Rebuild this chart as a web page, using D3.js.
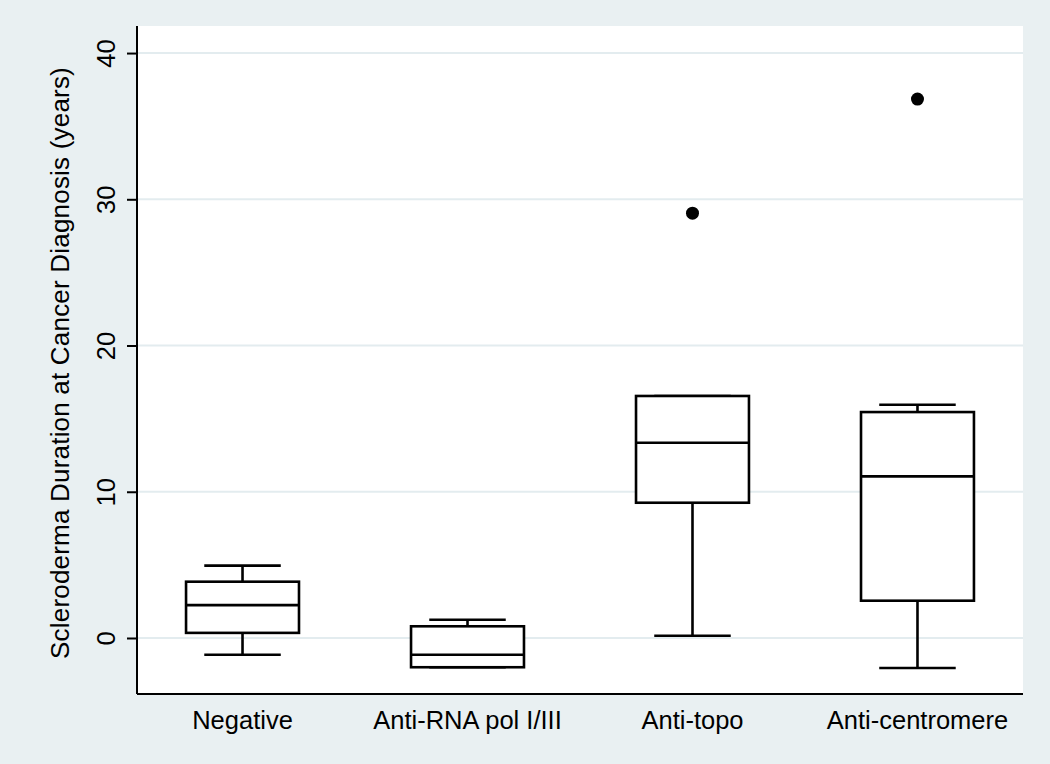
<!DOCTYPE html>
<html>
<head>
<meta charset="utf-8">
<script src="https://cdn.jsdelivr.net/npm/d3@7"></script>
<style>
  body { margin: 0; background: #e9f0f2; }
  text { font-family: "Liberation Sans", Arial, sans-serif; fill: #000; }
</style>
</head>
<body>
<div id="chart"></div>
<script>
// box plot, Stata style

var categories = ["Negative", "Anti-RNA pol I/III", "Anti-topo", "Anti-centromere"];
var whiskerLo = [-1.15, -2.0, 0.15, -2.05];
var q1        = [0.35, -2.0, 9.25, 2.55];
var median    = [2.25, -1.15, 13.35, 11.05];
var q3        = [3.85, 0.8, 16.55, 15.45];
var whiskerHi = [4.95, 1.25, 16.55, 15.95];
var outliers  = [[], [], [29.05], [36.85]];
var yTicks = [0, 10, 20, 30, 40];

var width = 1050,
    height = 764;

var margin = {top: 26, right: 27, bottom: 70, left: 137};

var svg = d3.select("#chart").append("svg")
    .attr("width", width)
    .attr("height", height);

svg.append("rect")
    .attr("width", width).attr("height", height)
    .attr("fill", "#e9f0f2");

// plot region
svg.append("rect")
    .attr("x", margin.left)
    .attr("y", margin.top)
    .attr("width", width - margin.left - margin.right)
    .attr("height", height - margin.top - margin.bottom)
    .attr("fill", "#fff");

var x = d3.scalePoint()
    .domain(categories)
    .range([margin.left, width - margin.right])
    .padding(0.469);

var y = d3.scaleLinear()
    .domain([-3.83, 41.85])
    .range([height - margin.bottom, margin.top]);

var boxW = x.step() * 0.502,
    capW = x.step() * 0.34;

// gridlines
svg.selectAll("line.grid")
    .data(yTicks)
    .enter().append("line")
    .attr("class", "grid")
    .attr("x1", margin.left)
    .attr("x2", width - margin.right)
    .attr("y1", function(d) { return y(d); })
    .attr("y2", function(d) { return y(d); })
    .attr("stroke", "#e3ecef")
    .attr("stroke-width", 2);

// y axis
var yAxis = svg.append("g")
    .attr("transform", "translate(" + margin.left + ",0)")
    .call(d3.axisLeft(y).tickValues(yTicks).tickSize(10).tickSizeOuter(0));
yAxis.select(".domain").remove();
yAxis.selectAll(".tick line").attr("stroke", "#000").attr("stroke-width", 2);
yAxis.selectAll(".tick text")
    .attr("x", null).attr("dy", null)
    .attr("font-size", 25.5)
    .attr("text-anchor", "middle")
    .attr("transform", "translate(-22,0) rotate(-90)");

// axis lines
svg.append("line")
    .attr("x1", margin.left).attr("x2", margin.left)
    .attr("y1", margin.top).attr("y2", height - margin.bottom)
    .attr("stroke", "#000").attr("stroke-width", 2);
svg.append("line")
    .attr("x1", margin.left).attr("x2", width - margin.right)
    .attr("y1", height - margin.bottom).attr("y2", height - margin.bottom)
    .attr("stroke", "#000").attr("stroke-width", 2);

// x labels
svg.selectAll("text.xlab")
    .data(categories)
    .enter().append("text")
    .attr("class", "xlab")
    .attr("x", function(d) { return x(d); })
    .attr("y", 729)
    .attr("text-anchor", "middle")
    .attr("font-size", 25.5)
    .text(function(d) { return d; });

// y title
svg.append("text")
    .attr("transform", "translate(69," + ((margin.top + height - margin.bottom) / 2 + 3) + ") rotate(-90)")
    .attr("text-anchor", "middle")
    .attr("font-size", 26)
    .attr("letter-spacing", 0.2)
    .text("Scleroderma Duration at Cancer Diagnosis (years)");

// boxes
var boxes = svg.selectAll("g.box")
    .data(categories)
    .enter().append("g")
    .attr("class", "box")
    .attr("fill", "none")
    .attr("stroke", "#000")
    .attr("stroke-width", 2.6);

boxes.append("line")   // upper whisker
    .attr("x1", function(d) { return x(d); })
    .attr("x2", function(d) { return x(d); })
    .attr("y1", function(d, i) { return y(q3[i]); })
    .attr("y2", function(d, i) { return y(whiskerHi[i]); });
boxes.append("line")   // lower whisker
    .attr("x1", function(d) { return x(d); })
    .attr("x2", function(d) { return x(d); })
    .attr("y1", function(d, i) { return y(q1[i]); })
    .attr("y2", function(d, i) { return y(whiskerLo[i]); });
boxes.append("line")   // upper cap
    .attr("x1", function(d) { return x(d) - capW / 2; })
    .attr("x2", function(d) { return x(d) + capW / 2; })
    .attr("y1", function(d, i) { return y(whiskerHi[i]); })
    .attr("y2", function(d, i) { return y(whiskerHi[i]); });
boxes.append("line")   // lower cap
    .attr("x1", function(d) { return x(d) - capW / 2; })
    .attr("x2", function(d) { return x(d) + capW / 2; })
    .attr("y1", function(d, i) { return y(whiskerLo[i]); })
    .attr("y2", function(d, i) { return y(whiskerLo[i]); });
boxes.append("rect")
    .attr("x", function(d) { return x(d) - boxW / 2; })
    .attr("width", boxW)
    .attr("y", function(d, i) { return y(q3[i]); })
    .attr("height", function(d, i) { return y(q1[i]) - y(q3[i]); })
    .attr("fill", "#fff");
boxes.append("line")   // median
    .attr("x1", function(d) { return x(d) - boxW / 2; })
    .attr("x2", function(d) { return x(d) + boxW / 2 + 1; })
    .attr("y1", function(d, i) { return y(median[i]); })
    .attr("y2", function(d, i) { return y(median[i]); });

// outliers
categories.forEach(function(c, i) {
    svg.selectAll(null)
        .data(outliers[i])
        .enter().append("circle")
        .attr("cx", x(c))
        .attr("cy", function(d) { return y(d); })
        .attr("r", 6.5)
        .attr("fill", "#000");
});
</script>
</body>
</html>
